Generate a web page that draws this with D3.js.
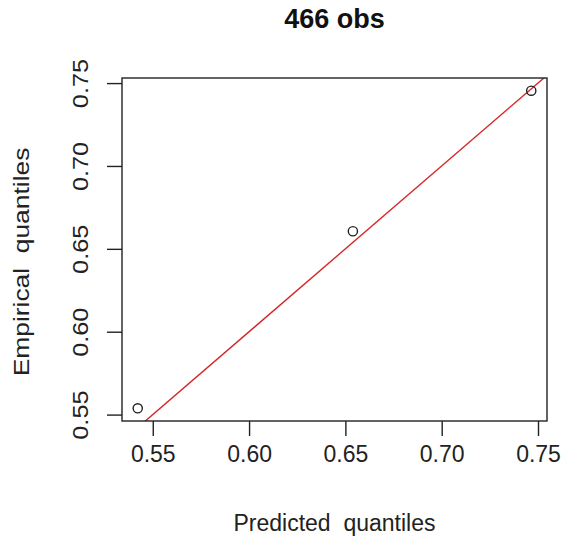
<!DOCTYPE html>
<html>
<head>
<meta charset="utf-8">
<script src="https://cdn.jsdelivr.net/npm/d3@7/dist/d3.min.js"></script>
<style>
  body { margin: 0; background: #fff; }
  svg { display: block; font-family: "Liberation Sans", Arial, sans-serif; }
</style>
</head>
<body>
<svg id="chart" width="570" height="542"></svg>
<script>
// quantile pairs
var predicted = [0.5422, 0.6539, 0.7465];
var empirical = [0.5538, 0.6606, 0.7454];
var xTicks = [0.55, 0.60, 0.65, 0.70, 0.75];
var yTicks = [0.55, 0.60, 0.65, 0.70, 0.75];
var title = "466 obs";
var xLabel = "Predicted  quantiles";
var yLabel = "Empirical  quantiles";

var svg = d3.select("#chart");
var plotLeft = 122, plotRight = 547, plotTop = 78, plotBottom = 421;

// R style: data range padded by 4% on each side
function pad(ext) {
  var d = (ext[1] - ext[0]) * 0.04;
  return [ext[0] - d, ext[1] + d];
}

var x = d3.scaleLinear().domain(pad(d3.extent(predicted))).range([plotLeft, plotRight]);
var y = d3.scaleLinear().domain(pad(d3.extent(empirical))).range([plotBottom, plotTop]);

// 1:1 reference line, clipped to plot box
svg.append("clipPath").attr("id", "box")
  .append("rect")
  .attr("x", plotLeft).attr("y", plotTop)
  .attr("width", plotRight - plotLeft).attr("height", plotBottom - plotTop);

var lo = Math.min(x.domain()[0], y.domain()[0]);
var hi = Math.max(x.domain()[1], y.domain()[1]);
svg.append("line")
  .attr("clip-path", "url(#box)")
  .attr("x1", x(lo)).attr("y1", y(lo))
  .attr("x2", x(hi)).attr("y2", y(hi))
  .attr("stroke", "#d62728")
  .attr("stroke-width", 1.4);

// points
svg.selectAll("circle.pt")
  .data(predicted)
  .enter().append("circle")
  .attr("class", "pt")
  .attr("cx", function(d) { return x(d); })
  .attr("cy", function(d, i) { return y(empirical[i]); })
  .attr("r", 4.6)
  .attr("fill", "none")
  .attr("stroke", "#222")
  .attr("stroke-width", 1.4);

// box
svg.append("rect")
  .attr("x", plotLeft).attr("y", plotTop)
  .attr("width", plotRight - plotLeft).attr("height", plotBottom - plotTop)
  .attr("fill", "none")
  .attr("stroke", "#222")
  .attr("stroke-width", 1.4);

// axes
var xAxis = d3.axisBottom(x).tickValues(xTicks)
  .tickFormat(d3.format(".2f")).tickSize(15).tickPadding(10);
var gx = svg.append("g")
  .attr("transform", "translate(0," + plotBottom + ")")
  .call(xAxis);

var yAxis = d3.axisLeft(y).tickValues(yTicks)
  .tickFormat(d3.format(".2f")).tickSize(15).tickPadding(0);
var gy = svg.append("g")
  .attr("transform", "translate(" + plotLeft + ",0)")
  .call(yAxis);

[gx, gy].forEach(function(g) {
  g.select(".domain").remove();
  g.selectAll(".tick line").attr("stroke", "#222").attr("stroke-width", 1.4);
  g.selectAll(".tick text")
    .attr("fill", "#222")
    .style("font-family", "Liberation Sans, Arial, sans-serif")
    .style("font-size", "23px");
});

// y tick labels are rotated and a bit stretched along their length, as in the source image
gy.selectAll(".tick text")
  .attr("x", null).attr("dy", null)
  .attr("text-anchor", "middle")
  .attr("transform", "translate(-34,0) rotate(-90) scale(1.15,1)")
  .style("font-size", "22px");

// titles
svg.append("text")
  .attr("x", (plotLeft + plotRight) / 2).attr("y", 28)
  .attr("text-anchor", "middle")
  .style("font-weight", "bold")
  .style("font-size", "27px")
  .attr("fill", "#111")
  .text(title);

svg.append("text")
  .attr("x", (plotLeft + plotRight) / 2).attr("y", 531)
  .attr("text-anchor", "middle")
  .style("font-size", "23px")
  .style("white-space", "pre")
  .attr("fill", "#222")
  .text(xLabel);

svg.append("text")
  .attr("transform", "translate(29,262) rotate(-90) scale(1.2,1)")
  .attr("text-anchor", "middle")
  .style("font-size", "22px")
  .style("white-space", "pre")
  .attr("fill", "#222")
  .text(yLabel);
</script>
</body>
</html>
